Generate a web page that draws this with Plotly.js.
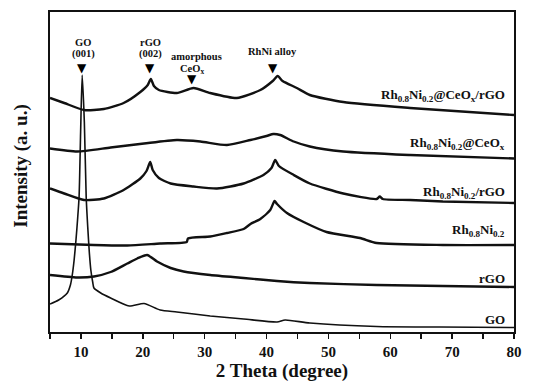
<!DOCTYPE html>
<html>
<head>
<meta charset="utf-8">
<script src="https://cdn.plot.ly/plotly-3.0.1.min.js"></script>
<style>
  html, body { margin: 0; padding: 0; background: #fff; }
  #chart { width: 535px; height: 392px; }
</style>
</head>
<body>
<div id="chart"></div>
<script>
// XRD patterns (2θ in degrees, intensity in arbitrary units, curves stacked with offsets)
const thetaGO = [5, 6.4, 7.8, 8.3, 8.6, 8.9, 9.2, 9.45, 9.7, 9.95, 10.2, 10.55, 10.85, 11.1, 11.35, 11.6, 11.9, 12.1, 13.2, 14.8, 17.8, 20.2, 22.8, 25.5, 30.9, 36.3, 41.7, 43.0, 47, 57.8, 68, 80];
const intGO   = [28, 32, 39, 47, 57, 72, 92, 112, 135, 200, 257, 210, 135, 105, 80, 62, 50, 44, 39, 34, 26, 28.5, 22, 20, 16, 13, 10, 12, 9, 5.5, 5, 4.5];

const thetaRGO = [5, 9.4, 12.1, 14.8, 17.5, 19.1, 20.7, 22.3, 24.5, 26.6, 30.9, 36.3, 41.7, 47, 57.8, 68.5, 80];
const intRGO   = [57, 54.5, 55.5, 60, 68.5, 73.5, 77, 70.5, 64, 60.5, 57, 54, 51, 49, 47, 46, 45];

const thetaRhNi = [5, 12.1, 17.5, 22.8, 27.1, 27.3, 30.9, 33.6, 36.3, 37.4, 39.0, 40.6, 41.3, 41.7, 43.3, 46, 49.7, 55.1, 57.8, 68.5, 80];
const intRhNi   = [88.5, 87, 86.5, 88.5, 90, 93.5, 95.5, 99, 103, 108, 113, 122, 131, 128, 119, 110, 100, 94, 89, 87, 87];

const thetaRhNiRGO = [5, 7.3, 10.5, 13.7, 16.9, 19.6, 20.6, 21.2, 21.6, 22.6, 24.5, 28.2, 32, 36.3, 39.5, 40.8, 41.4, 42.0, 44.4, 47, 52.4, 57.8, 58.3, 58.8, 63.2, 68.5, 80];
const intRhNiRGO   = [143.5, 138.5, 132, 133.5, 142, 153.5, 161, 170, 162, 154, 148.5, 145.5, 143.5, 148.5, 157, 164, 172, 166, 157, 148.5, 138.5, 133, 135.5, 133, 132, 130.5, 129];

const thetaRhNiCeOx = [5, 9.4, 14.8, 20.2, 25.5, 29.3, 33.6, 37.4, 40.0, 41.1, 42.2, 44.4, 47, 52.4, 63.2, 80];
const intRhNiCeOx   = [183.5, 180.5, 184.5, 188.5, 192, 190.5, 187, 192, 196, 198, 197, 190.5, 185.5, 180.5, 177, 173.5];

const thetaRhNiCeOxRGO = [5, 7.3, 10.5, 13.7, 16.9, 19.6, 20.8, 21.3, 21.8, 22.6, 25.5, 28.2, 30.9, 35.2, 39, 41.0, 41.8, 42.6, 44.9, 47, 52.4, 63.2, 80];
const intRhNiCeOxRGO   = [234, 229, 222, 223, 229, 240, 247, 253, 246, 242, 239, 244, 239, 234, 242, 251, 256, 251, 244, 237, 230, 224, 217];

// Sample names drawn at the right end of each curve, and the level they sit at
const sampleNames = [
  'Rh<sub>0.8</sub>Ni<sub>0.2</sub>@CeO<sub>x</sub>/rGO',
  'Rh<sub>0.8</sub>Ni<sub>0.2</sub>@CeO<sub>x</sub>',
  'Rh<sub>0.8</sub>Ni<sub>0.2</sub>/rGO',
  'Rh<sub>0.8</sub>Ni<sub>0.2</sub>',
  'rGO',
  'GO'
];
const sampleLabelLevels = [237, 189, 140, 102, 54, 13];

// Reflection markers: position (2θ) and label lines
const peakNames = [['GO', '(001)'], ['rGO', '(002)'], ['amorphous', 'CeO<sub>x</sub>'], ['RhNi alloy']];
const peakTheta = [10.1, 21.1, 28.0, 41.0];
const peakLabelTheta = [10.4, 21.2, 28.6, 40.9];

const xTickVals = [10, 20, 30, 40, 50, 60, 70, 80];
const xTickText = ['10', '20', '30', '40', '50', '60', '70', '80'];

const serif = 'Liberation Serif, Times New Roman, serif';

const series = [
  [thetaRhNiCeOxRGO, intRhNiCeOxRGO],
  [thetaRhNiCeOx, intRhNiCeOx],
  [thetaRhNiRGO, intRhNiRGO],
  [thetaRhNi, intRhNi],
  [thetaRGO, intRGO],
  [thetaGO, intGO]
];

const traces = series.map(([x, y], i) => ({
  x: x, y: y, type: 'scatter', mode: 'lines', name: sampleNames[i],
  line: { color: '#111', width: i === 5 ? 1.6 : 2.4, shape: 'spline', smoothing: 0.6 },
  hoverinfo: 'skip'
}));

const annotations = [];
sampleNames.forEach((t, i) => {
  annotations.push({
    text: '<b>' + t + '</b>', x: 0.985, xref: 'paper', xanchor: 'right',
    y: sampleLabelLevels[i], yref: 'y', yanchor: 'middle',
    showarrow: false, font: { family: serif, size: 13, color: '#111' }
  });
});

// label rows (intensity units): first line, second line, marker
const rowY = { first: 290, second: 278.5, marker: 264.5 };
const peakFont = { family: serif, size: 10.5, color: '#111' };
peakNames.forEach((lines, i) => {
  if (lines.length === 2) {
    annotations.push({ text: '<b>' + lines[0] + '</b>', x: peakLabelTheta[i], y: i === 2 ? 276 : rowY.first,
      xref: 'x', yref: 'y', showarrow: false, font: peakFont });
    annotations.push({ text: '<b>' + lines[1] + '</b>', x: peakLabelTheta[i] - (i === 2 ? 0.7 : 0), y: i === 2 ? 263 : rowY.second,
      xref: 'x', yref: 'y', showarrow: false, font: peakFont });
  } else {
    annotations.push({ text: '<b>' + lines[0] + '</b>', x: peakLabelTheta[i], y: 280.5,
      xref: 'x', yref: 'y', showarrow: false, font: peakFont });
  }
  annotations.push({ text: '▼', x: peakTheta[i], y: i === 2 ? 253.5 : rowY.marker,
    xref: 'x', yref: 'y', showarrow: false, font: { family: 'DejaVu Sans', size: 12, color: '#000' } });
});

// vertical axis title, as a rotated annotation beside the frame
annotations.push({
  text: '<b>Intensity (a. u.)</b>', textangle: -90, x: -0.063, xref: 'paper', xanchor: 'center',
  y: 166, yref: 'y', yanchor: 'middle', showarrow: false,
  font: { family: serif, size: 19, color: '#111' }
});

const layout = {
  width: 535, height: 392,
  margin: { l: 50, r: 21, t: 12, b: 60 },
  paper_bgcolor: '#fff', plot_bgcolor: '#fff',
  showlegend: false,
  font: { family: serif, color: '#111' },
  xaxis: {
    range: [5, 80], tickvals: xTickVals, ticktext: xTickText.map(t => '<b>' + t + '</b>'),
    ticks: 'outside', ticklen: 5, tickwidth: 1.5, tickcolor: '#111',
    minor: { dtick: 5, tick0: 0, ticks: 'outside', ticklen: 5, tickwidth: 1.5, tickcolor: '#111' },
    showline: true, linecolor: '#111', linewidth: 2, mirror: true,
    showgrid: false, zeroline: false,
    tickfont: { family: serif, size: 15, color: '#111', weight: 700 },
    title: { text: '<b>2 Theta (degree)</b>', font: { family: serif, size: 19, color: '#111' }, standoff: 4 },
    automargin: false
  },
  yaxis: {
    range: [0, 320],
    showticklabels: false, ticks: '',
    showline: true, linecolor: '#111', linewidth: 2, mirror: true,
    showgrid: false, zeroline: false, automargin: false
  },
  annotations: annotations
};

Plotly.newPlot('chart', traces, layout, { staticPlot: true, displayModeBar: false });
</script>
</body>
</html>
